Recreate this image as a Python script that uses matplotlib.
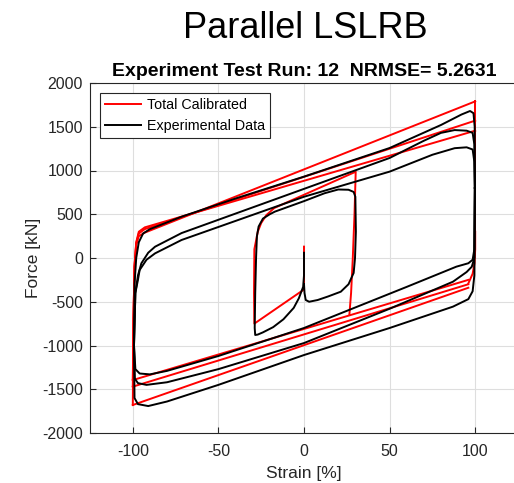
import matplotlib
matplotlib.use("Agg")
import matplotlib.pyplot as plt

plt.rcParams['font.family'] = ['Liberation Sans', 'DejaVu Sans']
plt.rcParams['axes.unicode_minus'] = False

# ---- Total Calibrated (model) ----
# small +-30 % cycle at the start
red_init_x = [0, 0, -29, -29.2, -29, -27, -25, -22, -17.4, 30.2, 29.5, 28.5, 27.5, 26.5]
red_init_y = [130, -360, -750, -400, 100, 300, 400, 490, 571, 986, 500, 0, -400, -650]
# large +-100 % cycles: lower branches (right -> left), upper branches (left -> right)
red_low_x = [96, -100]
red_low1_y = [-250, -1395]
red_low2_y = [-300, -1470]
red_low3_y = [-340, -1680]
red_up_x = [-100, -99.6, -99, -98, -96.5, -93, 100]
red_up1_y = [-1395, -700, -100, 150, 250, 290, 1790]
red_up2_y = [-1470, -700, -100, 170, 280, 330, 1570]
red_up3_y = [-1680, -700, -100, 180, 300, 350, 1455]
red_down_x = [100, 100, 99.6, 98.5, 96]
red_down_y = [300, 100, -60, -180, -290]

blk_init_x = [0, 0, -0.5, -3, -6, -12, -18, -24, -27, -28.5, -28.8, -28.5, -28, -27.5,
              -26.5, -24, -20, -17, 0, 12, 20, 26, 29, 30, 30.3, 29.8, 29, 26, 21.5,
              14, 8, 3, 1, 0.3, 0]
blk_init_y = [60, -200, -330, -460, -570, -700, -790, -850, -875, -880, -800, -400, 0, 250,
              360, 450, 500, 530, 650, 740, 783, 780, 755, 700, 300, 0, -171, -300, -385,
              -440, -480, -500, -480, -400, -300]

blk_low1_x = [99.8, 99.5, 98.5, 96, 89, 60, 0, -50, -80, -90, -96, -98.5, -99.3]
blk_low1_y = [800, 100, -20, -60, -99, -330, -800, -1120, -1290, -1330, -1320, -1270, -1000]
blk_low2_x = [99.8, 99.5, 98, 95, 87, 50, 0, -50, -80, -92, -97, -98.8, -99.3]
blk_low2_y = [800, 0, -100, -160, -271, -580, -972, -1270, -1420, -1450, -1430, -1380, -1000]
blk_low3_x = [99.8, 99.5, 98.5, 96, 87, 50, 0, -50, -80, -91, -97, -99, -99.3]
blk_low3_y = [800, -200, -380, -470, -556, -800, -1109, -1450, -1640, -1692, -1670, -1600, -1000]

blk_up1_x = [-99.3, -99, -98, -96.5, -94, -90, -71.5, -40, 0, 50, 80, 92, 97, 99, 99.7, 99.8]
blk_up1_y = [-1000, -300, 0, 180, 280, 330, 472, 680, 930, 1257, 1520, 1640, 1680, 1655, 1500, 800]
blk_up2_x = [-99.3, -98.5, -97, -95, -91, -87, -71.5, 0, 50, 70, 80, 88, 95, 98.5, 99.5, 99.8]
blk_up2_y = [-1000, -400, -200, -61, 60, 129, 285, 790, 1143, 1340, 1430, 1462, 1455, 1430, 1300, 800]
blk_up3_x = [-99.3, -98.5, -97, -96, -92, -87, -71.5, 0, 50, 75, 88, 95, 98.5, 99.5, 99.8]
blk_up3_y = [-1000, -400, -250, -137, -20, 53, 206, 700, 987, 1180, 1255, 1265, 1240, 1100, 800]

x_ticks = [-100, -50, 0, 50, 100]
y_ticks = [-2000, -1500, -1000, -500, 0, 500, 1000, 1500, 2000]

fig = plt.figure(figsize=(5.14, 4.83), dpi=100)
ax = fig.add_axes([90 / 514, 50 / 483, 428 / 514, 350 / 483])

lw = 1.4
red = '#ff0000'
ax.plot(red_init_x, red_init_y, color=red, lw=lw, label='Total Calibrated')
for low_y, up_y in [(red_low1_y, red_up1_y), (red_low2_y, red_up2_y), (red_low3_y, red_up3_y)]:
    ax.plot(red_low_x, low_y, color=red, lw=lw)
    ax.plot(red_up_x, up_y, color=red, lw=lw)
ax.plot(red_down_x, red_down_y, color=red, lw=lw)
for top in [1790, 1570, 1455]:
    ax.plot([100, 100], [top, 300], color=red, lw=lw)

ax.plot(blk_init_x, blk_init_y, color='black', lw=lw, label='Experimental Data')
for xs, ys in [(blk_low1_x, blk_low1_y), (blk_low2_x, blk_low2_y), (blk_low3_x, blk_low3_y),
               (blk_up1_x, blk_up1_y), (blk_up2_x, blk_up2_y), (blk_up3_x, blk_up3_y)]:
    ax.plot(xs, ys, color='black', lw=lw)

ax.set_xlim(-125, 125)
ax.set_ylim(-2000, 2000)
ax.set_xticks(x_ticks)
ax.set_yticks(y_ticks)
ax.grid(True, color='#dedede', lw=0.8)
ax.set_axisbelow(True)
ax.tick_params(direction='in', length=4, labelsize=11.5, colors='#262626')
ax.tick_params(axis='x', pad=8)
ax.tick_params(axis='y', pad=5)
for s in ax.spines.values():
    s.set_color('#262626')
    s.set_linewidth(0.8)

ax.set_xlabel('Strain [%]', fontsize=12.5, color='#262626', labelpad=5)
ax.set_ylabel('Force [kN]', fontsize=12.5, color='#262626', labelpad=1)
ax.set_title('Experiment Test Run: 12  NRMSE= 5.2631', fontsize=14, fontweight='bold', pad=5)
fig.text(305 / 514, 1 - 38 / 483, 'Parallel LSLRB', fontsize=26, ha='center', va='baseline')

leg = ax.legend(loc='upper left', bbox_to_anchor=(0.0234, 0.971), borderaxespad=0,
                fontsize=10.3, fancybox=False, framealpha=1, edgecolor='#262626',
                handlelength=2.5, handletextpad=0.4, borderpad=0.35, labelspacing=0.45)
leg.get_frame().set_linewidth(0.8)

fig.savefig('out.png', dpi=100)
